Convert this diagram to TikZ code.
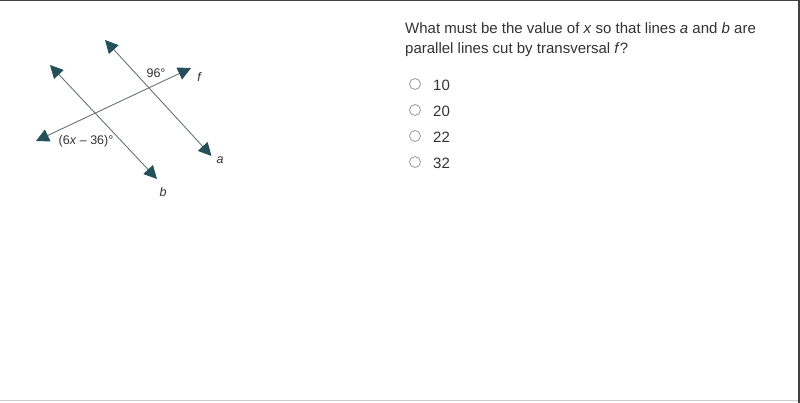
\documentclass[tikz,border=0pt]{standalone}
\usepackage{fontspec}
\setmainfont{Liberation Sans}
\usetikzlibrary{arrows.meta}
\definecolor{tealhead}{HTML}{24505A}
\definecolor{linegray}{HTML}{687478}
\definecolor{txt}{HTML}{333333}
\tikzset{
  geoline/.style={draw=linegray, line width=0.9pt, {Triangle[length=13pt,width=13pt,fill=tealhead,color=tealhead]}-{Triangle[length=13pt,width=13pt,fill=tealhead,color=tealhead]}},
  lbl/.style={font=\fontsize{12.5}{14}\selectfont, text=txt, inner sep=0pt},
  lbli/.style={lbl, font=\fontsize{12.5}{14}\selectfont\itshape},
  qtext/.style={font=\fontsize{15}{22}\selectfont, text=txt, inner sep=0pt, anchor=west},
  radio/.style={circle, draw=gray!80, line width=0.8pt, minimum size=11pt, inner sep=0pt}
}
\begin{document}
\begin{tikzpicture}[x=1pt,y=-1pt]
\useasboundingbox (0,0) rectangle (800,403);
\fill[white] (0,0) rectangle (800,403);
% frame
\draw[draw=black!75, line width=1.5pt] (0,0.75) -- (800,0.75);
\draw[draw=black!75, line width=2pt] (799,0) -- (799,403);
\draw[draw=black!20, line width=1pt] (0,400.5) -- (798,400.5);
% diagram
\coordinate (aT) at (105,40);
\coordinate (aB) at (211.5,156);
\coordinate (bT) at (50,65);
\coordinate (bB) at (157,179);
\coordinate (fL) at (36,141);
\coordinate (fR) at (191,68);
\draw[geoline] (aT) -- (aB);
\draw[geoline] (bT) -- (bB);
\draw[geoline] (fL) -- (fR);
\node[lbl] (l96) at (156,73) {96°};
\node[lbli] (lf) at (199,77) {f};
\node[lbl] (l6x) at (86,141) {(6\textit{x} – 36)°};
\node[lbli] (la) at (220,160) {a};
\node[lbli] (lb) at (163,192) {b};
% question
\node[qtext] (q1) at (405,28) {What must be the value of \textit{x} so that lines \textit{a} and \textit{b} are};
\node[qtext] (q2) at (405,50) {parallel lines cut by transversal \textit{f}?};
\node[radio] (r1) at (415,84) {};
\node[radio] (r2) at (415,110) {};
\node[radio] (r3) at (415,136) {};
\node[radio] (r4) at (415,162) {};
\node[qtext] (o1) at (433,85) {10};
\node[qtext] (o2) at (433,111) {20};
\node[qtext] (o3) at (433,137) {22};
\node[qtext] (o4) at (433,163) {32};
\end{tikzpicture}
\end{document}
